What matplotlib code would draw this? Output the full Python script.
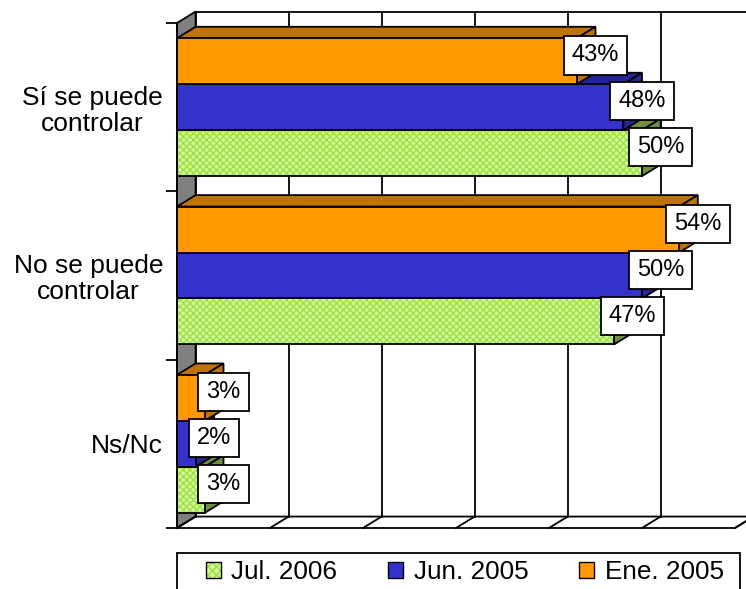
import matplotlib
matplotlib.use("Agg")
import matplotlib.pyplot as plt
from matplotlib.patches import Polygon, Rectangle, Patch
from matplotlib.legend_handler import HandlerTuple

plt.rcParams['font.family'] = ['Liberation Sans', 'DejaVu Sans']

# --- data -------------------------------------------------------------
categories = ["Sí se puede\ncontrolar", "No se puede\ncontrolar", "Ns/Nc"]
series_names = ["Jul. 2006", "Jun. 2005", "Ene. 2005"]
jul_2006 = [50, 47, 3]
jun_2005 = [48, 50, 2]
ene_2005 = [43, 54, 3]

# --- styling ----------------------------------------------------------
front_colors = {"Jul. 2006": "#ccff99", "Jun. 2005": "#3333cc", "Ene. 2005": "#ff9900"}
shade_colors = {"Jul. 2006": "#6f8f3c", "Jun. 2005": "#26269a", "Ene. 2005": "#bf7300"}
hatch_color = "#a3dc44"

XMAX = 60
DX, DY = 2.0, 0.068          # depth offset of the 3-D look (data units)
BAR_H = 0.273
LW = 1.3

W, H = 746, 589
fig = plt.figure(figsize=(W / 100, H / 100), dpi=100)
ax = fig.add_axes([177 / W, 61 / H, 558 / W, 505 / H])
ax.set_xlim(0, XMAX)
ax.set_ylim(-0.5, 2.5)
for s in ("top", "right", "bottom"):
    ax.spines[s].set_visible(False)
ax.spines["left"].set_linewidth(LW)
ax.spines["left"].set_zorder(5)
ax.set_xticks([])

ypos = [2, 1, 0]
ax.set_yticks(ypos, labels=categories, fontsize=19)
ax.tick_params(axis="y", which="major", length=0, pad=10)
for t in ax.get_yticklabels():
    t.set_multialignment("center")
    t.set_linespacing(1.1)
ax.set_yticks([-0.5, 0.5, 1.5, 2.5], minor=True)
ax.tick_params(axis="y", which="minor", length=8, width=LW, direction="out")

ylo, yhi = -0.5, 2.5

# left side wall
ax.add_patch(Polygon([(0, ylo), (DX, ylo + DY), (DX, yhi + DY), (0, yhi)],
                     closed=True, fc="#808080", ec="black", lw=LW,
                     clip_on=False, zorder=1))
# floor
ax.add_patch(Polygon([(0, ylo), (XMAX, ylo), (XMAX + DX, ylo + DY), (DX, ylo + DY)],
                     closed=True, fc="white", ec="black", lw=LW,
                     clip_on=False, zorder=1))
# back wall: top edge and gridlines
ax.plot([DX, XMAX + DX + 2], [yhi + DY, yhi + DY], color="black", lw=LW,
        clip_on=False, zorder=1)
for gx in range(0, XMAX + 1, 10):
    ax.plot([gx + DX, gx + DX], [ylo + DY, yhi + DY], color="black", lw=LW,
            clip_on=False, zorder=1)
    ax.plot([gx, gx + DX], [ylo, ylo + DY], color="black", lw=LW,
            clip_on=False, zorder=1)


def bar3d(value, yc, name, z):
    y0, y1 = yc - BAR_H / 2, yc + BAR_H / 2
    top = [(0, y1), (value, y1), (value + DX, y1 + DY), (DX, y1 + DY)]
    side = [(value, y0), (value + DX, y0 + DY), (value + DX, y1 + DY), (value, y1)]
    for poly in (top, side):
        ax.add_patch(Polygon(poly, closed=True, fc=shade_colors[name], ec="black",
                             lw=LW, zorder=z, clip_on=False))
    if name == "Jul. 2006":
        ax.add_patch(Rectangle((0, y0), value, BAR_H, fc=front_colors[name],
                               ec=hatch_color, hatch="xxxxx", lw=0, zorder=z + 0.1))
        ax.add_patch(Rectangle((0, y0), value, BAR_H, fill=False, ec="black",
                               lw=LW, zorder=z + 0.2))
    else:
        ax.add_patch(Rectangle((0, y0), value, BAR_H, fc=front_colors[name],
                               ec="black", lw=LW, zorder=z + 0.1))


offsets = {"Jul. 2006": -BAR_H, "Jun. 2005": 0.0, "Ene. 2005": BAR_H}
values = {"Jul. 2006": jul_2006, "Jun. 2005": jun_2005, "Ene. 2005": ene_2005}

for ci, yc in enumerate(ypos):
    for si, name in enumerate(series_names):   # lower bars first
        bar3d(values[name][ci], yc + offsets[name], name, 2 + si)

for ci, yc in enumerate(ypos):
    for name in series_names:
        v = values[name][ci]
        ax.text(v + DX, yc + offsets[name] + DY / 2, f"{v}%", fontsize=17,
                ha="center", va="center", zorder=10,
                bbox=dict(boxstyle="square,pad=0.34", fc="white", ec="black", lw=LW))

# legend: frame box plus entries
fig.patches.append(Rectangle((177 / W, -0.02), (740 - 177) / W, 0.02 + (589 - 553) / H,
                             transform=fig.transFigure, fill=False, ec="black",
                             lw=LW, clip_on=False))
handles = [
    (Patch(fc=front_colors["Jul. 2006"], ec=hatch_color, hatch="xxxx", lw=0),
     Patch(fill=False, ec="black", lw=1)),
    Patch(fc=front_colors["Jun. 2005"], ec="black", lw=1),
    Patch(fc=front_colors["Ene. 2005"], ec="black", lw=1),
]
leg = fig.legend(handles, series_names, loc="center left",
                 bbox_to_anchor=(206 / W, 1 - 572 / H), ncol=3, fontsize=18.8,
                 frameon=False, handlelength=0.57, handleheight=0.57,
                 handletextpad=0.4, columnspacing=1.95, borderpad=0,
                 borderaxespad=0,
                 handler_map={tuple: HandlerTuple(ndivide=1, pad=0)})

fig.savefig("out.png", dpi=100)
